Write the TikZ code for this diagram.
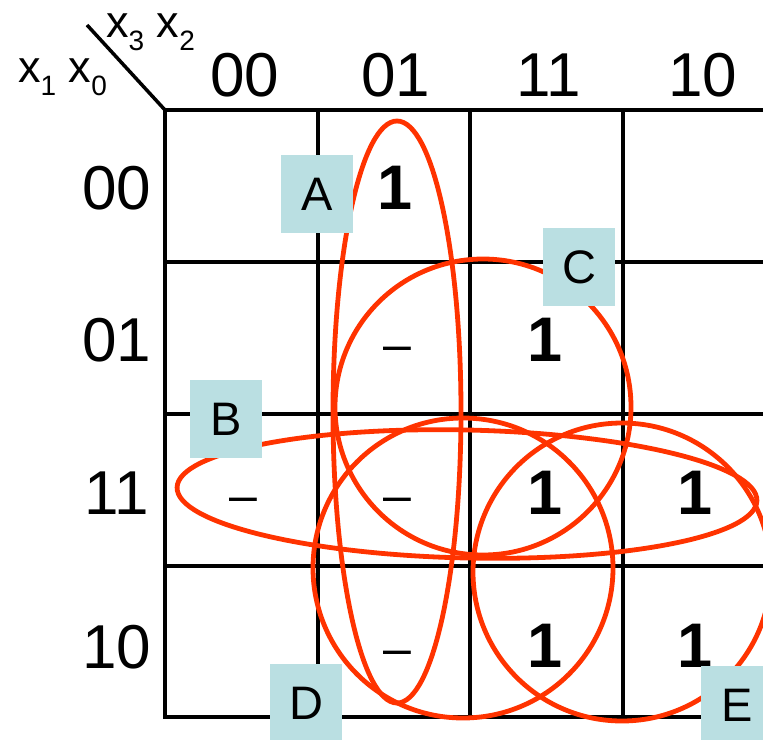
\documentclass[tikz,border=0pt]{standalone}
\usepackage{fontspec}
\setmainfont{Liberation Sans}
\definecolor{ringc}{RGB}{255,51,0}
\definecolor{tagc}{RGB}{186,223,226}
\newcommand{\sbs}[1]{\raisebox{-13pt}{\fontsize{28}{28}\selectfont #1}}
\begin{document}
\begin{tikzpicture}[x=1pt,y=-1pt,
  gridline/.style={line width=4pt},
  ring/.style={draw=ringc, line width=4.8pt},
  tagbox/.style={fill=tagc, minimum width=72pt, minimum height=78pt, inner sep=0pt, font=\fontsize{47}{47}\selectfont},
  hdr/.style={font=\fontsize{62}{62}\selectfont, inner sep=0pt},
  one/.style={font=\fontsize{63}{63}\selectfont\bfseries, inner sep=0pt},
  dc/.style={font=\fontsize{50}{50}\selectfont, inner sep=0pt, anchor=base},
  var/.style={font=\fontsize{45}{45}\selectfont, inner sep=0pt, anchor=base west}]
\useasboundingbox (0,0) rectangle (763,739);
% grid
\draw[gridline, line join=miter] (785,110) -- (165,110) -- (165,717) -- (785,717);
\foreach \yy in {262,414,566} \draw[gridline] (165,\yy) -- (785,\yy);
\foreach \xx in {318,470,623} \draw[gridline] (\xx,110) -- (\xx,717);
\coordinate (corner) at (165,110);
\coordinate (diagend) at (87,25);
\draw[line width=3.5pt] (diagend) -- (corner);
% variable labels
\node[var] (vtop) at (106,37) {x\sbs{3} x\sbs{2}};
\node[var] (vleft) at (18,82) {x\sbs{1} x\sbs{0}};
% column headers
\node[hdr] (c00) at (245,75) {00};
\node[hdr] (c01) at (396,75) {01};
\node[hdr] (c11) at (549,75) {11};
\node[hdr] (c10) at (703,75) {10};
% row headers
\node[hdr] (r00) at (117,188) {00};
\node[hdr] (r01) at (117,340) {01};
\node[hdr] (r11) at (117,493) {11};
\node[hdr] (r10) at (117,647) {10};
% cell entries
\node[one] (e0001) at (395,188) {1};
\node[one] (e0111) at (545,340) {1};
\node[one] (e1111) at (545,493) {1};
\node[one] (e1110) at (695,493) {1};
\node[one] (e1011) at (545,646) {1};
\node[one] (e1010) at (695,646) {1};
\node[dc] (d0101) at (397,361) {–};
\node[dc] (d1100) at (243,512) {–};
\node[dc] (d1101) at (397,512) {–};
\node[dc] (d1001) at (397,665) {–};
% groupings
\draw[ring] (397,412) ellipse [x radius=64, y radius=291];
\begin{scope}[rotate around={-1.3:(467,494)}]
\draw[ring] (467,494) ellipse [x radius=290, y radius=64];
\end{scope}
\draw[ring] (483,407) circle [radius=148];
\draw[ring] (463,568) circle [radius=150];
\draw[ring] (622,572) circle [radius=149];
% tags
\node[tagbox] (tA) at (317,194) {A};
\node[tagbox] (tB) at (226,419) {B};
\node[tagbox] (tC) at (579,267) {C};
\node[tagbox] (tD) at (306,703) {D};
\node[tagbox] (tE) at (737,705) {E};
\end{tikzpicture}
\end{document}
